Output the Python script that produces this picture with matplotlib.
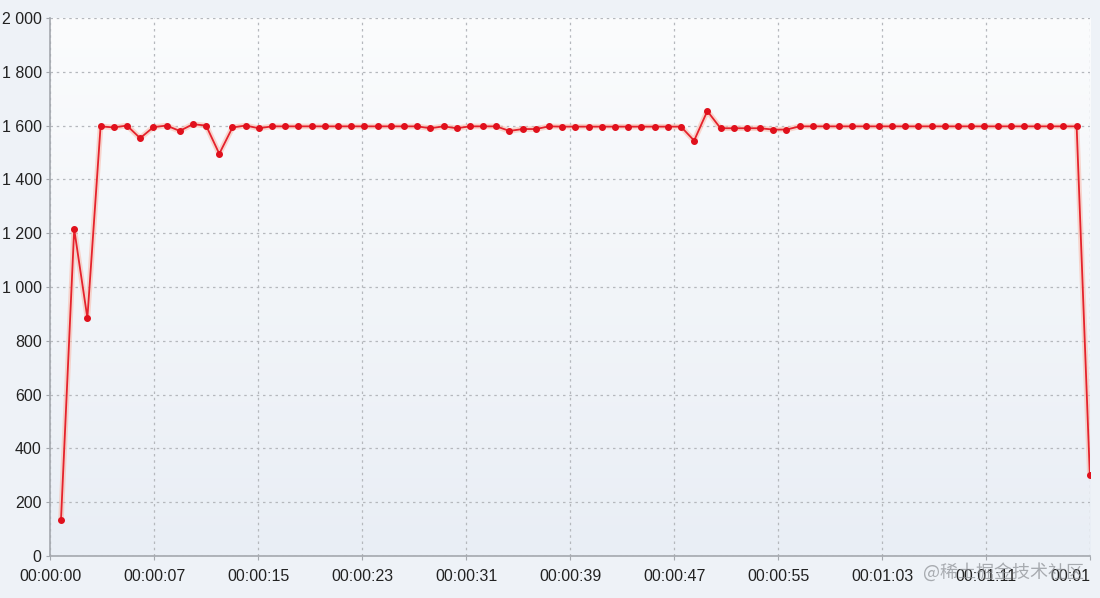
import numpy as np
import matplotlib
matplotlib.use("Agg")
from matplotlib import pyplot as plt

# one sample per second
values = [135, 1215, 885, 1597, 1593, 1600, 1553, 1594, 1600, 1580,
          1605, 1600, 1495, 1593, 1600, 1590, 1597, 1597, 1597, 1597,
          1597, 1597, 1597, 1597, 1597, 1597, 1597, 1597, 1590, 1597,
          1590, 1597, 1597, 1597, 1580, 1587, 1587, 1597, 1596, 1596,
          1596, 1596, 1596, 1596, 1596, 1596, 1596, 1596, 1544, 1654,
          1590, 1590, 1590, 1590, 1585, 1585, 1597, 1597, 1597, 1597,
          1597, 1597, 1597, 1597, 1597, 1597, 1597, 1597, 1597, 1597,
          1597, 1597, 1597, 1597, 1597, 1597, 1597, 1597, 300]
x_labels = ["00:00:00", "00:00:07", "00:00:15", "00:00:23", "00:00:31",
            "00:00:39", "00:00:47", "00:00:55", "00:01:03", "00:01:11",
            "00:01"]
y_ticks = [0, 200, 400, 600, 800, 1000, 1200, 1400, 1600, 1800, 2000]

seconds = np.arange(1, len(values) + 1)
x_min, x_max = 0.17, len(values) + 0.02

plt.rcParams['font.family'] = ['Liberation Sans', 'DejaVu Sans']

fig = plt.figure(figsize=(11, 5.98), dpi=100, facecolor='#eef2f7')
ax = fig.add_axes([0.0455, 0.0702, 0.9455, 0.8998])

# soft vertical gradient behind the plot (white at top, blue-grey at bottom)
grad = np.linspace(0, 1, 256).reshape(-1, 1)
cmap = matplotlib.colors.LinearSegmentedColormap.from_list('bg', ['#fbfcfd', '#e9eef5'])
ax.imshow(grad, aspect='auto', cmap=cmap, extent=[x_min, x_max, 0, 2000],
          zorder=0, origin='upper')

ax.set_xlim(x_min, x_max)
ax.set_ylim(0, 2000)

tick_pos = np.linspace(x_min, x_max, len(x_labels))
ax.set_xticks(tick_pos)
ax.set_xticklabels(x_labels)
ax.set_yticks(y_ticks)
ax.set_yticklabels([format(v, ',').replace(',', ' ') for v in y_ticks])
ax.get_xticklabels()[-1].set_horizontalalignment('right')

ax.grid(True, color='#b5b8bd', linestyle=(0, (2, 3)), linewidth=0.9, zorder=1)
ax.set_axisbelow(True)

# glow + line + dots
ax.plot(seconds, values, color='#f9b8a8', linewidth=4, alpha=0.55, zorder=2,
        solid_capstyle='round')
ax.plot(seconds, values, color='#e5222c', linewidth=1.3, zorder=3,
        marker='o', markersize=4, markerfacecolor='#e0101c',
        markeredgecolor='#e0101c')

for side in ['top', 'right']:
    ax.spines[side].set_visible(False)
for side in ['left', 'bottom']:
    ax.spines[side].set_color('#a4a8ae')
    ax.spines[side].set_linewidth(1.2)

ax.tick_params(axis='both', colors='#a4a8ae', labelcolor='#222222',
               labelsize=11.5, length=3)
ax.tick_params(axis='y', pad=3)
ax.tick_params(axis='x', pad=6)

fig.text(0.985, 0.043, '@稀土掘金技术社区', ha='right', va='center',
         fontsize=13, color='#8a8d92', alpha=0.7,
         family=['Noto Sans CJK SC', 'DejaVu Sans'])

fig.savefig('out.png', dpi=100, facecolor=fig.get_facecolor())
